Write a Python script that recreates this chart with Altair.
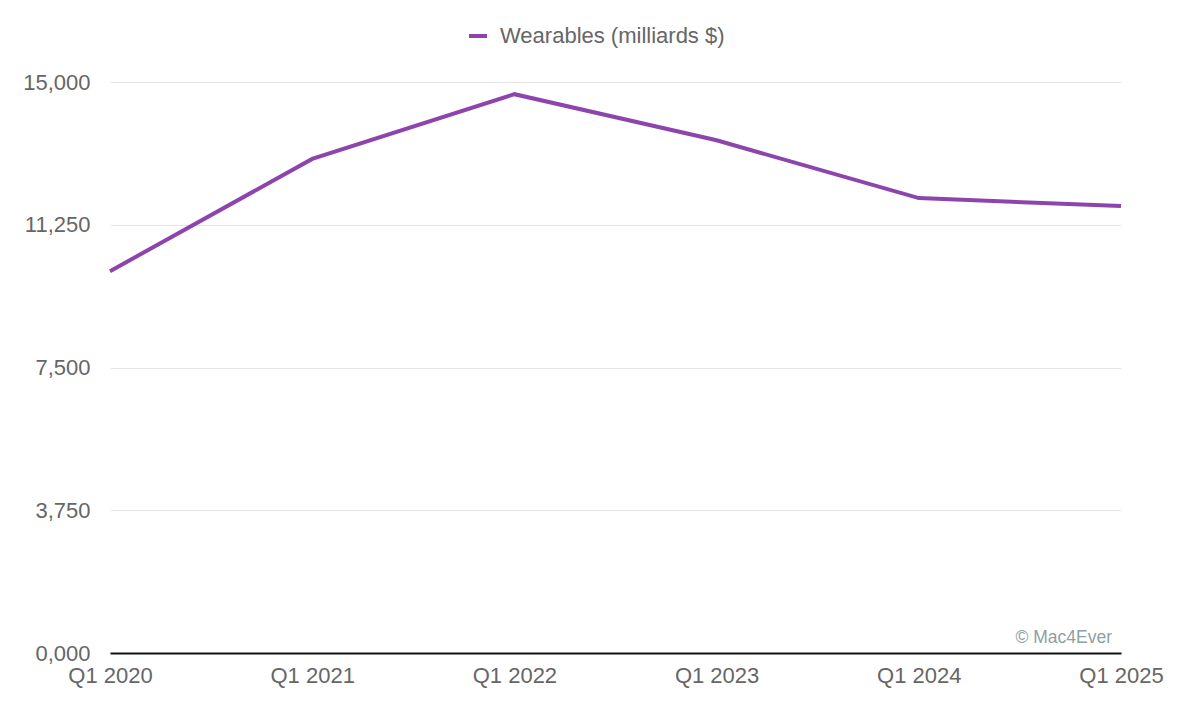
import altair as alt
import pandas as pd

quarters = ["Q1 2020", "Q1 2021", "Q1 2022", "Q1 2023", "Q1 2024", "Q1 2025"]
values = [10030, 12980, 14680, 13470, 11950, 11740]
series_name = "Wearables (milliards $)"
y_ticks = [0, 3750, 7500, 11250, 15000]

df = pd.DataFrame({"quarter": quarters, "value": values, "series": [series_name] * len(quarters)})
wm = pd.DataFrame({"quarter": [quarters[-1]], "value": [0], "label": ["© Mac4Ever"]})

FONT = "Liberation Sans"
y_scale = alt.Scale(domain=[0, 15000], nice=False, zero=True)

x_enc = alt.X("quarter:N", sort=quarters,
              scale=alt.Scale(type="point", padding=0),
              axis=alt.Axis(title=None, labelAngle=0, ticks=False, domain=True,
                            domainColor="#111", domainWidth=2, grid=False,
                            labelFontSize=22, labelColor="#666", labelFont=FONT,
                            labelPadding=12))

line = alt.Chart(df).mark_line(strokeWidth=4).encode(
    x=x_enc,
    y=alt.Y("value:Q", scale=y_scale,
            axis=alt.Axis(title=None, values=y_ticks, ticks=False, domain=False,
                          gridColor="#e6e6e6", gridWidth=1,
                          labelFontSize=22, labelColor="#666", labelFont=FONT,
                          labelPadding=20,
                          labelExpr="datum.value == 0 ? '0,000' : format(datum.value, ',')")),
    color=alt.Color("series:N", scale=alt.Scale(range=["#8e44ad"]),
                    legend=alt.Legend(title=None, orient="none", legendX=357, legendY=-57,
                                      symbolType="stroke", symbolSize=324, symbolStrokeWidth=4,
                                      labelFontSize=22, labelColor="#666", labelFont=FONT,
                                      labelOffset=11, labelLimit=600, padding=0)),
)

watermark = alt.Chart(wm).mark_text(align="right", baseline="alphabetic", dx=-9, dy=-10,
                                     fontSize=17.5, color="#8fa0a0", font=FONT).encode(
    x=alt.X("quarter:N", sort=quarters),
    y=alt.Y("value:Q", scale=y_scale),
    text="label:N",
)

chart = alt.layer(line, watermark).properties(
    width=1011, height=571,
    autosize=alt.AutoSizeParams(type="none"),
    padding={"left": 102, "top": 74, "right": 60, "bottom": 50},
    background="white",
).configure_view(stroke=None)

chart.save("out.html", embed_options={"renderer": "svg", "actions": False})
